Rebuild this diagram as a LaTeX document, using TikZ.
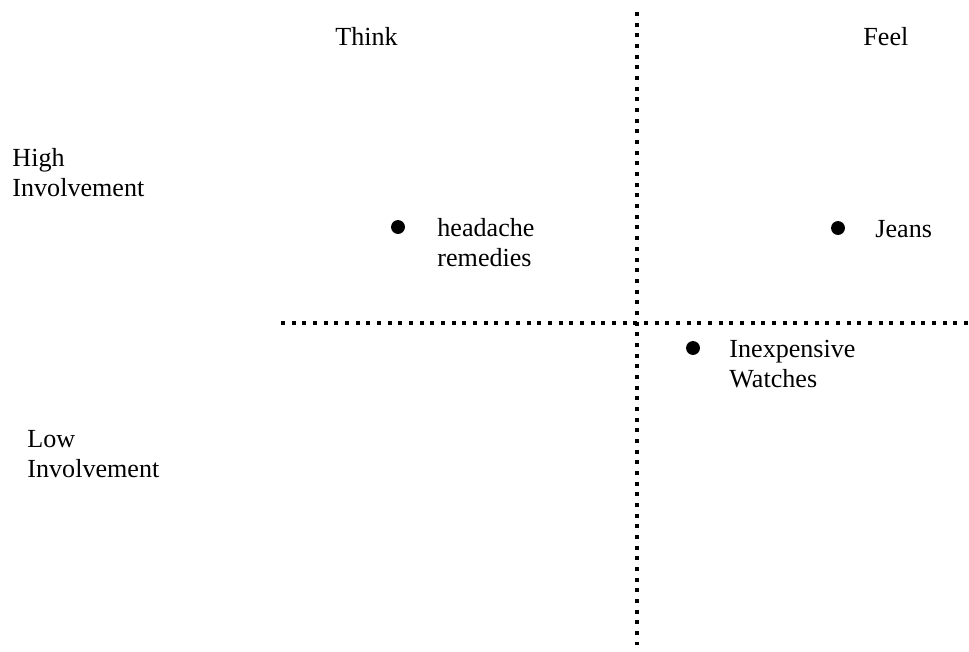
\documentclass[tikz,border=0pt]{standalone}
\usepackage{fontspec}
\setmainfont{Liberation Serif}
\begin{document}
\begin{tikzpicture}[x=0.46pt, y=-0.46pt,
    every node/.style={font=\fontsize{12}{13.8}\selectfont, inner sep=0pt},
    txt/.style={anchor=base west, align=left},
    dot/.style={circle, fill=black, minimum size=6.4pt},
    divider/.style={line width=1.84pt, dash pattern=on 1.84pt off 3.07pt}]
    \useasboundingbox (0,0) rectangle (969,651);

    % Ejes punteados
    \coordinate (vtop) at (637,12);
    \coordinate (vbot) at (637,645);
    \coordinate (hleft) at (281,323);
    \coordinate (hright) at (969,323);
    \draw[divider] (vtop) -- (vbot);
    \draw[divider] (hleft) -- (hright);

    % Columnas y filas (base = ultima linea)
    \node[txt] (think) at (335,45) {Think};
    \node[txt] (feel) at (863,45) {Feel};
    \node[txt] (high) at (12,196) {High\\Involvement};
    \node[txt] (low) at (27,477) {Low\\Involvement};

    % Productos
    \node[dot] (headachedot) at (398,227) {};
    \node[txt] (headache) at (437,266) {headache\\remedies};
    \node[dot] (jeansdot) at (838,228) {};
    \node[txt] (jeans) at (875,237) {Jeans};
    \node[dot] (watchesdot) at (693,348) {};
    \node[txt] (watches) at (729,387) {Inexpensive\\Watches};
\end{tikzpicture}
\end{document}
